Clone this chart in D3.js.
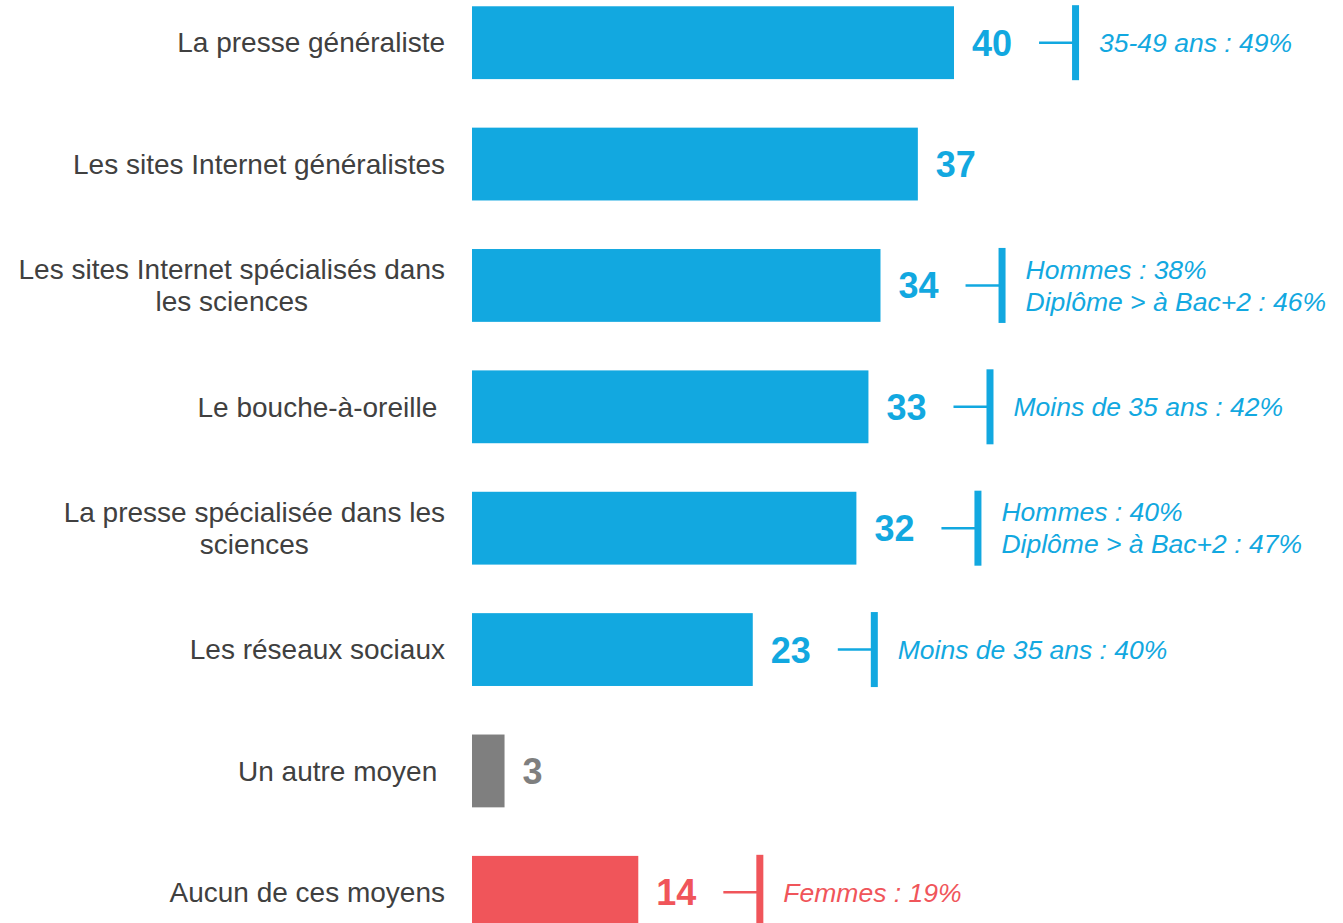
<!DOCTYPE html>
<html>
<script src='https://d3js.org/d3.v7.min.js'></script>
<style>
  html, body { margin: 0; background: #fff; }
  text { font-family: "Liberation Sans", Arial, sans-serif; }
</style>
<body>
<div id="vis"></div>
</body>
<script>
// categories (label lines), values, colour groups and the side notes
var categories = [
  ["La presse généraliste"],
  ["Les sites Internet généralistes"],
  ["Les sites Internet spécialisés dans", "les sciences"],
  ["Le bouche-à-oreille\u00a0"],
  ["La presse spécialisée dans les", "sciences"],
  ["Les réseaux sociaux"],
  ["Un autre moyen\u00a0"],
  ["Aucun de ces moyens"]
];
var values = [40, 37, 33.9, 32.9, 31.9, 23.3, 2.7, 13.8];
var groups = ["media", "media", "media", "media", "media", "media", "other", "none"];
var notes = [
  ["35-49 ans : 49%"],
  [],
  ["Hommes : 38%", "Diplôme > à Bac+2 : 46%"],
  ["Moins de 35 ans : 42%"],
  ["Hommes : 40%", "Diplôme > à Bac+2 : 47%"],
  ["Moins de 35 ans : 40%"],
  [],
  ["Femmes : 19%"]
];

var width = 1343, height = 923;

var svg = d3.select('#vis')
    .append('svg')
    .attr('width', width)
    .attr('height', height);

var colour = d3.scaleOrdinal()
    .domain(["media", "other", "none"])
    .range(["#12a8e0", "#7f7f7f", "#f0555a"]);

var x_scale = d3.scaleLinear()
    .domain([0, 40])
    .range([472, 954]);

var y_scale = d3.scaleBand()
    .domain(d3.range(values.length))
    .range([-18, 953])
    .paddingInner(0.4)
    .paddingOuter(0.2);

var fmt = d3.format('.0f');

var rows = svg.selectAll('.row')
    .data(values)
    .enter()
    .append('g')
    .attr('class', 'row');

// bars
rows.append('rect')
    .attr('x', x_scale(0))
    .attr('y', function(d, i) { return y_scale(i); })
    .attr('width', function(d) { return x_scale(d) - x_scale(0); })
    .attr('height', y_scale.bandwidth())
    .attr('fill', function(d, i) { return colour(groups[i]); });

// category labels, centred lines in a right-aligned block
rows.each(function(d, i) {
    var g = d3.select(this);
    var cy = y_scale(i) + y_scale.bandwidth() / 2;
    var lines = categories[i];
    var lh = 32;
    var label = g.append('text')
        .attr('font-size', 28)
        .attr('fill', '#404040')
        .attr('text-anchor', 'middle');
    var spans = label.selectAll('tspan')
        .data(lines)
        .enter()
        .append('tspan')
        .attr('y', function(l, k) { return cy + (k - (lines.length - 1) / 2) * lh; })
        .attr('dy', '0.35em')
        .text(function(l) { return l; });
    var maxW = 0;
    spans.each(function() { maxW = Math.max(maxW, this.getComputedTextLength()); });
    spans.attr('x', 445 - maxW / 2);
});

// value labels and side notes
rows.each(function(d, i) {
    var g = d3.select(this);
    var cy = y_scale(i) + y_scale.bandwidth() / 2;
    var c = colour(groups[i]);
    var val = g.append('text')
        .attr('x', x_scale(d) + 18)
        .attr('y', cy)
        .attr('dy', '0.36em')
        .attr('font-size', 36)
        .attr('font-weight', 'bold')
        .attr('fill', c)
        .text(fmt(d));

    var lines = notes[i];
    if (!lines.length) return;
    var x0 = x_scale(d) + 18 + val.node().getComputedTextLength() + 27;
    g.append('line')
        .attr('x1', x0)
        .attr('x2', x0 + 34)
        .attr('y1', cy)
        .attr('y2', cy)
        .attr('stroke', c)
        .attr('stroke-width', 2.5);
    g.append('rect')
        .attr('x', x0 + 33)
        .attr('y', cy - 37.5)
        .attr('width', 7)
        .attr('height', 75)
        .attr('fill', c);
    g.append('text')
        .attr('font-size', 26.5)
        .attr('font-style', 'italic')
        .attr('fill', c)
        .selectAll('tspan')
        .data(lines)
        .enter()
        .append('tspan')
        .attr('x', x0 + 60)
        .attr('y', function(l, k) { return cy + (k - (lines.length - 1) / 2) * 32; })
        .attr('dy', '0.35em')
        .text(function(l) { return l; });
});
</script>
</html>
